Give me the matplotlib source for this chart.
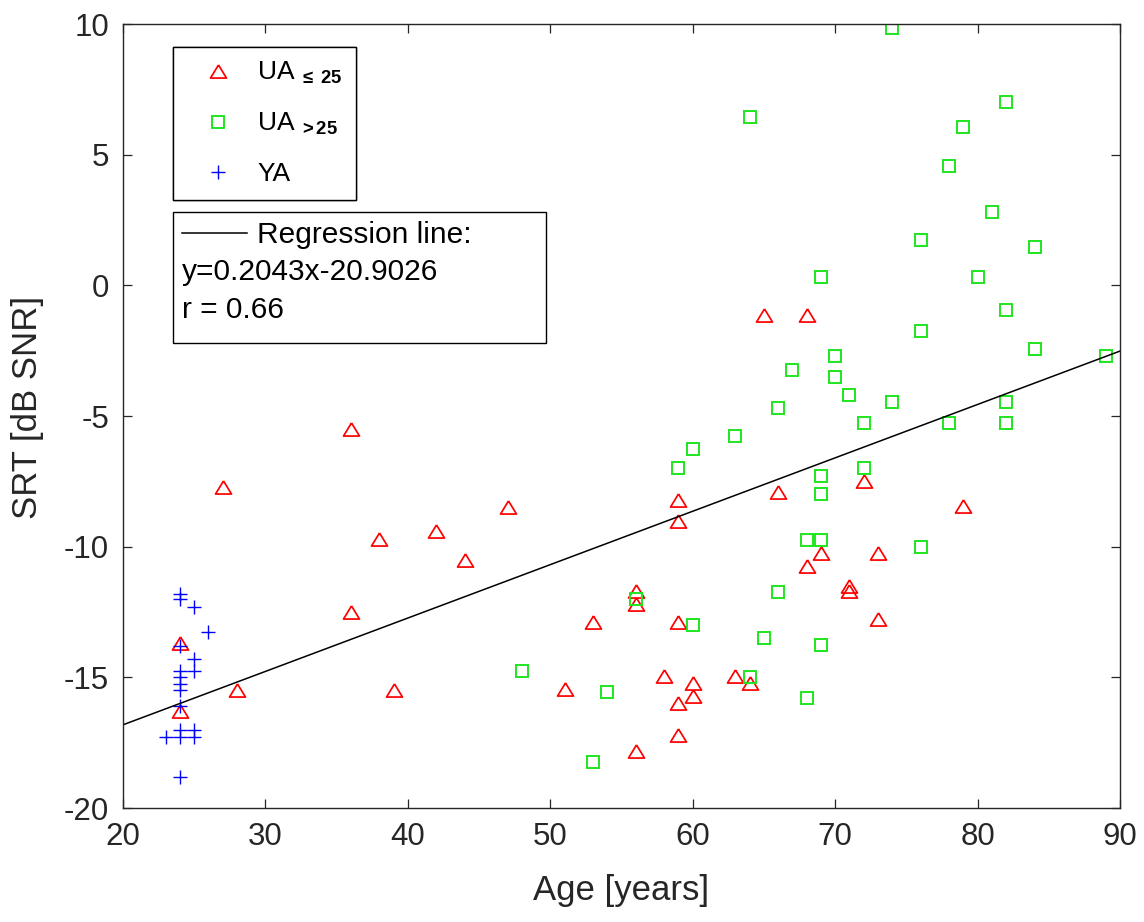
import numpy as np
import matplotlib
matplotlib.use("Agg")
import matplotlib.pyplot as plt
from matplotlib.lines import Line2D
from matplotlib.offsetbox import AnchoredOffsetbox, VPacker, HPacker, TextArea, DrawingArea

# ====== data ======
# UA <= 25 (red triangles)
ua_low_age = [24, 24, 27, 28, 36, 36, 38, 39, 42, 44, 47, 51, 53, 56, 56, 56, 58, 59, 59,
              59, 59, 59, 60, 60, 63, 64, 65, 66, 68, 68, 69, 71, 71, 72, 73, 73, 79]
ua_low_srt = [-13.7, -16.3, -7.7, -15.5, -5.5, -12.5, -9.7, -15.5, -9.4, -10.5, -8.5, -15.45,
              -12.9, -11.7, -12.2, -17.8, -14.95, -8.2, -9.0, -12.9, -16.0, -17.2, -15.2, -15.7,
              -14.95, -15.2, -1.15, -7.9, -1.15, -10.75, -10.25, -11.5, -11.7, -7.5, -10.25,
              -12.75, -8.45]

# UA > 25 (green squares)
ua_high_age = [48, 53, 54, 56, 59, 60, 60, 63, 64, 64, 65, 66, 66, 67, 68, 68, 69, 69, 69, 69,
               69, 70, 70, 71, 72, 72, 74, 74, 76, 76, 76, 78, 78, 79, 80, 81, 82, 82, 82, 82,
               84, 84, 89]
ua_high_srt = [-14.75, -18.25, -15.55, -12.0, -7.0, -6.25, -13.0, -5.75, 6.45, -15.0, -13.5,
               -4.7, -11.75, -3.25, -9.75, -15.8, 0.3, -7.3, -8.0, -9.75, -13.75, -2.7, -3.5,
               -4.2, -5.25, -7.0, 9.85, -4.45, 1.75, -1.75, -10.0, 4.55, -5.25, 6.05, 0.3, 2.8,
               7.0, -0.95, -4.45, -5.25, 1.45, -2.45, -2.7]

# YA (blue pluses)
ya_age = [23, 24, 24, 24, 24, 24, 24, 24, 24, 24, 24, 24, 25, 25, 25, 25, 25, 26]
ya_srt = [-17.3, -11.8, -12.0, -13.8, -14.75, -15.0, -15.25, -15.5, -16.1, -17.0, -17.3, -18.8,
          -12.3, -14.3, -14.75, -17.0, -17.3, -13.25]

# regression
slope = 0.2043
intercept = -20.9026
r_value = 0.66

# ====== style ======
plt.rcParams['font.family'] = ['Liberation Sans', 'DejaVu Sans']
plt.rcParams['mathtext.fontset'] = 'custom'
plt.rcParams['mathtext.rm'] = 'Liberation Sans'
plt.rcParams['mathtext.bf'] = 'Liberation Sans:bold'
plt.rcParams['mathtext.it'] = 'Liberation Sans:italic'
plt.rcParams['axes.unicode_minus'] = False

gray = '#262626'
tri = [(0, 0.82), (-1, -0.82), (1, -0.82), (0, 0.82)]

fig = plt.figure(figsize=(11.44, 9.22), dpi=100)
ax = fig.add_axes([123 / 1144, (922 - 808) / 922, 997 / 1144, 784 / 922])

ax.plot(ua_low_age, ua_low_srt, linestyle='none', marker=tri, markersize=11.5,
        markerfacecolor='none', markeredgecolor='red', markeredgewidth=1.25,
        label=r'UA$_{\mathbf{\ \leq\ 25}}$')
ax.plot(ua_high_age, ua_high_srt, linestyle='none', marker='s', markersize=8,
        markerfacecolor='none', markeredgecolor='#1ee61e', markeredgewidth=1.4,
        label=r'UA$_{\mathbf{\ >25}}$')
ax.plot(ya_age, ya_srt, linestyle='none', marker='+', markersize=10,
        markeredgecolor='blue', markeredgewidth=1.0, label='YA')

fit_x = np.array([20, 90])
ax.plot(fit_x, slope * fit_x + intercept, color='black', linewidth=1.1)

ax.set_xlim(20, 90)
ax.set_ylim(-20, 10)
ax.set_xticks(np.arange(20, 91, 10))
ax.set_yticks(np.arange(-20, 11, 5))
ax.tick_params(direction='in', length=6.5, width=0.9, top=True, right=True,
               labelsize=22.5, colors=gray, pad=10)
for sp in ax.spines.values():
    sp.set_color(gray)
    sp.set_linewidth(1.0)

ax.set_xlabel('Age [years]', fontsize=25, color=gray)
ax.set_ylabel('SRT [dB SNR]', fontsize=25, color=gray)
ax.xaxis.set_label_coords(0.5, -0.084)
ax.yaxis.set_label_coords(-0.079, 0.511)

# ====== legend: groups ======
leg = ax.legend(loc='upper left', bbox_to_anchor=(0.0498, 0.971), borderaxespad=0,
                fontsize=19, handlelength=2.45, handletextpad=0.25, labelspacing=0.95,
                borderpad=0.5, fancybox=False, framealpha=1, edgecolor='black')
leg.get_frame().set_linewidth(1.0)
ax.add_artist(leg)

# ====== legend: regression ======
da = DrawingArea(47, 14, 0, 0)
da.add_artist(Line2D([0, 47], [8, 8], color='black', linewidth=1.1))
reg_font = dict(size=21.5, color='black')
row1 = HPacker(children=[da, TextArea('Regression line:', textprops=reg_font)],
               align='center', pad=0, sep=7)
row2 = TextArea(f'y={slope}x{intercept:+.4f}'.replace('+-', '-'), textprops=reg_font)
row3 = TextArea(f'r = {r_value}', textprops=reg_font)
spacer = DrawingArea(1, 0)
box = VPacker(children=[row1, row2, row3, spacer], align='left', pad=0, sep=7, width=355)
anch = AnchoredOffsetbox(loc='upper left', child=box, pad=0.3, borderpad=0, frameon=True,
                         bbox_to_anchor=(0.0498, 0.7606), bbox_transform=ax.transAxes,
                         prop=dict(size=21.5))
anch.patch.set_edgecolor('black')
anch.patch.set_linewidth(1.0)
anch.patch.set_boxstyle('square', pad=0)
ax.add_artist(anch)

fig.savefig('out.png', dpi=100)
